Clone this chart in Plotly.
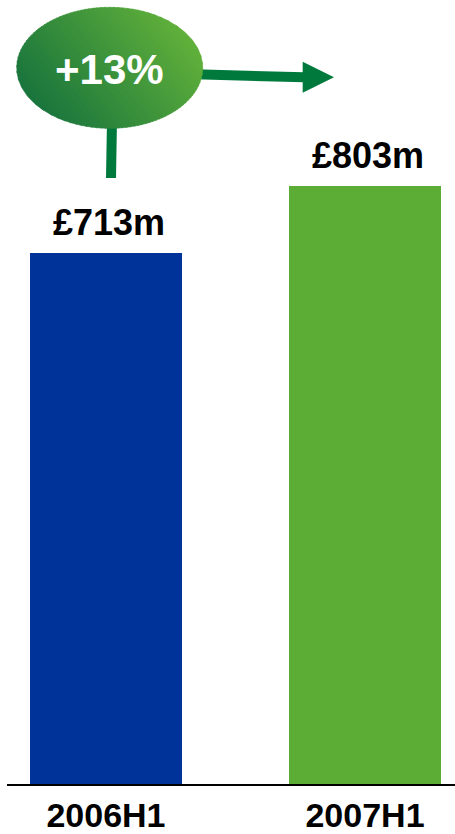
import numpy as np
import plotly.graph_objects as go

# ---- data -------------------------------------------------------------
periods = ["2006H1", "2007H1"]
revenue_m = [713, 803]
bar_colors = ["#003399", "#5BAD35"]
growth_label = "+13%"

# ---- canvas -----------------------------------------------------------
W, H = 455, 834
M_L, M_R, M_T, M_B = 7, 0, 0, 50
FONT = "Liberation Sans, Arial, sans-serif"
ARROW_GREEN = "#00793D"

fig = go.Figure()

fig.add_trace(go.Bar(
    x=periods, y=revenue_m,
    width=0.587,
    marker=dict(color=bar_colors, line=dict(width=0)),
    hoverinfo="skip",
))

# value labels above bars
for p, v in zip(periods, revenue_m):
    fig.add_annotation(
        x=p, y=v, xref="x", yref="y",
        text=f"<b>£{v}m</b>", showarrow=False,
        yanchor="bottom", yshift=8, xshift=3,
        font=dict(family=FONT, size=36, color="black"),
    )


# ---- growth bubble (pixel-space overlay axes) -------------------------
def clip_half(poly, n, c, keep_ge):
    """Sutherland-Hodgman clip of polygon against n.p >= c (or <= c)."""
    out = []
    m = len(poly)
    for i in range(m):
        a, b = poly[i], poly[(i + 1) % m]
        da, db = np.dot(n, a) - c, np.dot(n, b) - c
        if not keep_ge:
            da, db = -da, -db
        if da >= 0:
            out.append(a)
        if (da >= 0) != (db >= 0):
            t = da / (da - db)
            out.append(a + t * (b - a))
    return out


cx, cy, rx, ry = 109.7, 67.8, 93.0, 60.5
th = np.linspace(0, 2 * np.pi, 240, endpoint=False)
ellipse = [np.array([cx + rx * np.cos(t), cy + ry * np.sin(t)]) for t in th]

# gradient direction: dark at lower-left, light at upper-right
direction = np.array([1.0, -0.8])
direction /= np.linalg.norm(direction)
proj = [np.dot(direction, p) for p in ellipse]
lo, hi = min(proj), max(proj)
n_strips = 48
dark = np.array([24, 116, 60])
light = np.array([96, 176, 58])
edges = np.linspace(lo, hi, n_strips + 1)
for k in range(n_strips):
    poly = clip_half(ellipse, direction, edges[k] - 0.3, True)
    poly = clip_half(poly, direction, edges[k + 1] + 0.3, False)
    if len(poly) < 3:
        continue
    f = (k + 0.5) / n_strips
    col = dark + (light - dark) * f
    color = "rgb(%d,%d,%d)" % tuple(np.round(col).astype(int))
    xs = [p[0] for p in poly] + [poly[0][0]]
    ys = [p[1] for p in poly] + [poly[0][1]]
    fig.add_trace(go.Scatter(
        x=xs, y=ys, xaxis="x2", yaxis="y2",
        mode="lines", fill="toself", fillcolor=color,
        line=dict(color=color, width=0.6),
        hoverinfo="skip", showlegend=False,
    ))

fig.add_annotation(
    x=cx, y=cy + 2, xref="x2", yref="y2",
    text=f"<b>{growth_label}</b>", showarrow=False,
    font=dict(family=FONT, size=42, color="white"),
)

# stem and arrow
fig.add_shape(type="line", xref="x2", yref="y2", layer="below",
              x0=112, y0=120, x1=111, y1=178,
              line=dict(color=ARROW_GREEN, width=10))
fig.add_shape(type="line", xref="x2", yref="y2", layer="below",
              x0=195, y0=74.3, x1=304, y1=77.3,
              line=dict(color=ARROW_GREEN, width=10))
fig.add_shape(type="path", xref="x2", yref="y2",
              path="M 302.7,61.7 L 334,77.3 L 302.7,92.7 Z",
              fillcolor=ARROW_GREEN, line=dict(width=0))

fig.update_layout(
    width=W, height=H,
    margin=dict(l=M_L, r=M_R, t=M_T, b=M_B, pad=0, autoexpand=False),
    paper_bgcolor="white", plot_bgcolor="white",
    showlegend=False,
    bargap=0,
    xaxis=dict(
        type="category", range=[-0.382, 1.3475],
        showgrid=False, zeroline=False, automargin=False,
        showline=True, linecolor="black", linewidth=2,
        ticks="", tickfont=dict(family=FONT, size=34, color="black"),
        tickprefix="<b>", ticksuffix="</b>",
        fixedrange=True,
    ),
    yaxis=dict(
        range=[0, 1052], visible=False, showgrid=False, zeroline=False,
        fixedrange=True,
    ),
    xaxis2=dict(range=[M_L, W - M_R], overlaying="x", visible=False,
                fixedrange=True),
    yaxis2=dict(range=[H - M_B, M_T], overlaying="y", visible=False,
                fixedrange=True),
)

fig.write_html("out.html", config={"displayModeBar": False})
